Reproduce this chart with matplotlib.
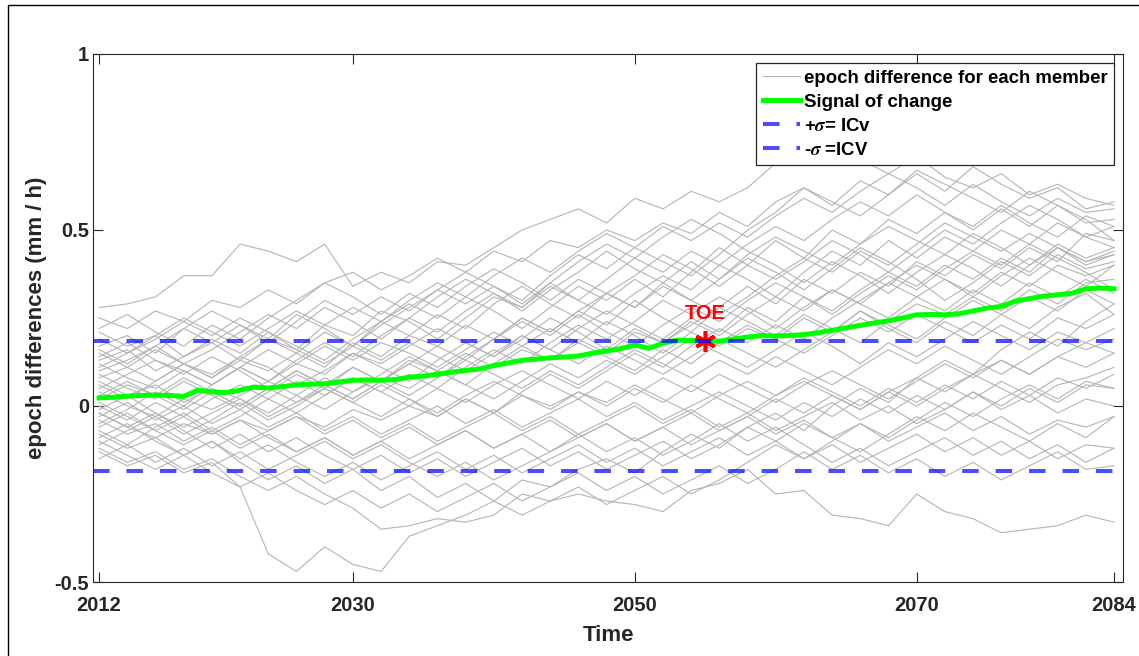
import numpy as np
import matplotlib
matplotlib.use("Agg")
from matplotlib import pyplot as plt
from matplotlib.patches import Rectangle

plt.rcParams['font.family'] = ['Liberation Sans', 'DejaVu Sans']
plt.rcParams['font.weight'] = 'bold'
plt.rcParams['mathtext.fontset'] = 'stix'

# member years (every 2 years)
years = np.arange(2012, 2085, 2)

# epoch difference for each member (mm/h)
m01 = [0.28, 0.29, 0.31, 0.37, 0.37, 0.46, 0.44, 0.41, 0.46, 0.34, 0.38, 0.35, 0.41, 0.40, 0.45, 0.50, 0.53, 0.56, 0.52, 0.59, 0.56, 0.61, 0.58, 0.62, 0.69, 0.73, 0.76, 0.70, 0.66, 0.71, 0.65, 0.62, 0.66, 0.60, 0.63, 0.59, 0.57]
m02 = [0.25, 0.22, 0.27, 0.24, 0.30, 0.28, 0.33, 0.29, 0.35, 0.38, 0.33, 0.37, 0.42, 0.38, 0.44, 0.41, 0.47, 0.45, 0.50, 0.47, 0.52, 0.49, 0.55, 0.51, 0.58, 0.62, 0.57, 0.64, 0.60, 0.66, 0.61, 0.68, 0.63, 0.59, 0.62, 0.56, 0.58]
m03 = [0.21, 0.17, 0.20, 0.14, 0.18, 0.23, 0.19, 0.26, 0.22, 0.17, 0.24, 0.29, 0.25, 0.31, 0.27, 0.22, 0.28, 0.34, 0.30, 0.36, 0.31, 0.38, 0.45, 0.40, 0.47, 0.42, 0.50, 0.46, 0.53, 0.49, 0.55, 0.50, 0.56, 0.51, 0.57, 0.52, 0.53]
m04 = [0.17, 0.20, 0.15, 0.22, 0.18, 0.13, 0.19, 0.16, 0.23, 0.20, 0.27, 0.24, 0.19, 0.25, 0.31, 0.28, 0.35, 0.30, 0.26, 0.32, 0.37, 0.33, 0.40, 0.36, 0.31, 0.38, 0.44, 0.40, 0.47, 0.42, 0.48, 0.44, 0.50, 0.46, 0.52, 0.48, 0.51]
m05 = [0.15, 0.11, 0.16, 0.12, 0.08, 0.13, 0.10, 0.15, 0.11, 0.18, 0.14, 0.20, 0.17, 0.23, 0.19, 0.25, 0.21, 0.27, 0.23, 0.30, 0.25, 0.21, 0.28, 0.34, 0.29, 0.36, 0.32, 0.38, 0.34, 0.41, 0.37, 0.43, 0.39, 0.45, 0.41, 0.49, 0.47]
m06 = [0.13, 0.16, 0.10, 0.14, 0.19, 0.15, 0.21, 0.17, 0.13, 0.19, 0.24, 0.20, 0.26, 0.22, 0.29, 0.34, 0.29, 0.25, 0.32, 0.28, 0.35, 0.41, 0.36, 0.43, 0.48, 0.44, 0.40, 0.46, 0.51, 0.47, 0.43, 0.49, 0.45, 0.40, 0.46, 0.42, 0.45]
m07 = [0.12, 0.08, 0.05, 0.10, 0.06, 0.11, 0.16, 0.12, 0.09, 0.15, 0.11, 0.07, 0.13, 0.18, 0.14, 0.20, 0.16, 0.22, 0.27, 0.23, 0.19, 0.25, 0.21, 0.28, 0.24, 0.31, 0.27, 0.33, 0.38, 0.34, 0.40, 0.36, 0.42, 0.38, 0.45, 0.40, 0.43]
m08 = [0.10, 0.13, 0.17, 0.12, 0.16, 0.21, 0.26, 0.22, 0.28, 0.24, 0.19, 0.25, 0.31, 0.36, 0.32, 0.27, 0.33, 0.38, 0.44, 0.39, 0.35, 0.30, 0.36, 0.42, 0.38, 0.33, 0.39, 0.45, 0.41, 0.36, 0.30, 0.35, 0.41, 0.37, 0.43, 0.39, 0.41]
m09 = [0.09, 0.05, 0.02, 0.07, 0.03, -0.01, 0.04, 0.09, 0.05, 0.11, 0.07, 0.13, 0.10, 0.06, 0.12, 0.17, 0.13, 0.19, 0.15, 0.21, 0.18, 0.24, 0.20, 0.26, 0.31, 0.27, 0.33, 0.29, 0.25, 0.31, 0.36, 0.32, 0.38, 0.34, 0.40, 0.37, 0.40]
m10 = [0.08, 0.11, 0.07, 0.12, 0.09, 0.14, 0.11, 0.06, 0.10, 0.15, 0.12, 0.17, 0.22, 0.18, 0.14, 0.19, 0.25, 0.21, 0.16, 0.22, 0.18, 0.23, 0.28, 0.24, 0.20, 0.26, 0.22, 0.18, 0.24, 0.29, 0.26, 0.31, 0.27, 0.33, 0.29, 0.35, 0.36]
m11 = [0.07, 0.03, 0.06, 0.01, 0.05, 0.02, -0.02, 0.03, 0.08, 0.04, 0.09, 0.14, 0.10, 0.15, 0.11, 0.16, 0.13, 0.18, 0.14, 0.10, 0.16, 0.12, 0.18, 0.23, 0.19, 0.25, 0.21, 0.27, 0.22, 0.18, 0.24, 0.20, 0.26, 0.31, 0.27, 0.33, 0.29]
m12 = [0.05, 0.09, 0.13, 0.10, 0.06, 0.11, 0.07, 0.12, 0.17, 0.13, 0.18, 0.15, 0.11, 0.16, 0.21, 0.17, 0.22, 0.18, 0.24, 0.20, 0.15, 0.21, 0.17, 0.22, 0.19, 0.15, 0.20, 0.25, 0.21, 0.26, 0.22, 0.18, 0.23, 0.19, 0.25, 0.22, 0.26]
m13 = [0.04, 0.00, -0.03, 0.02, -0.01, 0.03, 0.07, 0.03, -0.01, 0.04, 0.08, 0.05, 0.10, 0.06, 0.02, 0.07, 0.12, 0.08, 0.13, 0.09, 0.14, 0.19, 0.15, 0.11, 0.16, 0.21, 0.17, 0.12, 0.18, 0.14, 0.19, 0.24, 0.20, 0.16, 0.21, 0.18, 0.22]
m14 = [0.02, 0.06, 0.03, 0.08, 0.04, 0.00, 0.05, 0.10, 0.06, 0.02, 0.07, 0.03, 0.08, 0.13, 0.09, 0.05, 0.10, 0.06, 0.11, 0.16, 0.12, 0.08, 0.13, 0.09, 0.14, 0.10, 0.06, 0.11, 0.16, 0.12, 0.17, 0.13, 0.09, 0.14, 0.19, 0.16, 0.19]
m15 = [0.00, -0.04, 0.01, -0.03, 0.02, 0.06, 0.02, 0.07, 0.03, 0.08, 0.04, 0.00, 0.05, 0.01, 0.06, 0.10, 0.06, 0.02, 0.07, 0.03, 0.08, 0.04, 0.09, 0.05, 0.01, 0.06, 0.10, 0.06, 0.02, 0.07, 0.12, 0.08, 0.13, 0.09, 0.14, 0.11, 0.15]
m16 = [-0.01, 0.03, -0.02, -0.06, -0.02, 0.02, -0.03, 0.01, 0.05, 0.01, -0.03, 0.02, -0.02, 0.03, 0.07, 0.03, -0.01, 0.04, 0.00, 0.05, 0.01, 0.06, 0.02, -0.02, 0.03, 0.07, 0.03, -0.01, 0.04, 0.00, 0.05, 0.09, 0.05, 0.01, 0.06, 0.08, 0.11]
m17 = [-0.02, -0.06, -0.09, -0.05, -0.08, -0.04, -0.07, -0.03, -0.06, -0.01, -0.04, 0.00, -0.03, 0.02, -0.02, 0.03, 0.00, 0.04, 0.01, 0.06, 0.02, -0.02, 0.03, 0.07, 0.03, 0.08, 0.04, 0.00, 0.05, 0.01, 0.06, 0.02, 0.07, 0.03, 0.08, 0.05, 0.09]
m18 = [-0.03, 0.01, -0.04, 0.00, -0.05, -0.01, -0.06, -0.02, -0.07, -0.03, -0.08, -0.04, 0.00, -0.05, -0.01, -0.06, -0.02, 0.02, -0.03, 0.01, -0.04, 0.00, 0.04, 0.00, -0.04, 0.01, -0.03, 0.02, -0.02, 0.03, -0.01, 0.04, 0.00, 0.05, 0.01, 0.06, 0.05]
m19 = [-0.04, -0.08, -0.05, -0.10, -0.06, -0.11, -0.07, -0.03, -0.08, -0.04, -0.09, -0.05, -0.10, -0.06, -0.02, -0.07, -0.03, -0.08, -0.04, 0.00, -0.05, -0.01, -0.06, -0.02, -0.07, -0.03, 0.01, -0.04, 0.00, -0.05, -0.01, 0.04, -0.01, 0.03, -0.02, 0.02, 0.00]
m20 = [-0.06, -0.02, -0.07, -0.11, -0.07, -0.12, -0.08, -0.13, -0.09, -0.14, -0.10, -0.06, -0.11, -0.07, -0.12, -0.08, -0.04, -0.09, -0.05, -0.10, -0.06, -0.11, -0.07, -0.03, -0.08, -0.04, -0.09, -0.05, -0.10, -0.06, -0.02, -0.07, -0.03, -0.08, -0.04, -0.06, -0.03]
m21 = [-0.08, -0.12, -0.09, -0.14, -0.10, -0.15, -0.11, -0.16, -0.20, -0.16, -0.21, -0.17, -0.13, -0.18, -0.14, -0.19, -0.15, -0.11, -0.16, -0.12, -0.17, -0.13, -0.09, -0.14, -0.10, -0.15, -0.11, -0.16, -0.12, -0.08, -0.13, -0.09, -0.14, -0.10, -0.15, -0.11, -0.12]
m22 = [-0.10, -0.14, -0.18, -0.14, -0.19, -0.23, -0.19, -0.24, -0.28, -0.24, -0.29, -0.25, -0.30, -0.26, -0.22, -0.27, -0.23, -0.19, -0.24, -0.20, -0.25, -0.21, -0.17, -0.22, -0.18, -0.13, -0.18, -0.14, -0.19, -0.15, -0.20, -0.16, -0.21, -0.17, -0.13, -0.18, -0.17]
m23 = [-0.12, -0.16, -0.13, -0.18, -0.15, -0.20, -0.24, -0.20, -0.25, -0.29, -0.35, -0.34, -0.32, -0.33, -0.31, -0.25, -0.27, -0.25, -0.27, -0.28, -0.30, -0.24, -0.22, -0.18, -0.25, -0.24, -0.31, -0.32, -0.34, -0.25, -0.30, -0.32, -0.36, -0.35, -0.34, -0.31, -0.33]
m24 = [-0.13, -0.17, -0.14, -0.19, -0.16, -0.23, -0.42, -0.47, -0.40, -0.45, -0.47, -0.37, -0.34, -0.31, -0.27, -0.21, -0.23, -0.18, -0.15, -0.19, -0.13, -0.08, -0.12, -0.06, -0.02, -0.07, 0.00, 0.05, 0.01, 0.08, 0.13, 0.09, 0.16, 0.21, 0.17, 0.24, 0.29]
m25 = [-0.15, -0.11, -0.16, -0.12, -0.17, -0.13, -0.18, -0.14, -0.10, -0.15, -0.11, -0.16, -0.20, -0.16, -0.21, -0.17, -0.13, -0.08, -0.13, -0.09, -0.14, -0.10, -0.05, -0.10, -0.06, -0.11, -0.16, -0.12, -0.17, -0.13, -0.09, -0.14, -0.10, -0.15, -0.11, -0.16, -0.12]
m26 = [-0.05, -0.01, 0.04, 0.00, 0.06, 0.11, 0.07, 0.13, 0.18, 0.14, 0.20, 0.25, 0.21, 0.27, 0.32, 0.28, 0.34, 0.30, 0.36, 0.42, 0.38, 0.44, 0.40, 0.46, 0.51, 0.47, 0.53, 0.58, 0.54, 0.60, 0.55, 0.51, 0.57, 0.52, 0.48, 0.54, 0.51]
m27 = [0.06, 0.02, 0.07, 0.12, 0.08, 0.14, 0.19, 0.15, 0.21, 0.17, 0.23, 0.28, 0.33, 0.29, 0.34, 0.30, 0.37, 0.43, 0.39, 0.45, 0.41, 0.37, 0.43, 0.50, 0.55, 0.62, 0.58, 0.54, 0.60, 0.67, 0.63, 0.59, 0.55, 0.61, 0.57, 0.53, 0.47]
m28 = [0.03, 0.07, 0.03, -0.01, 0.04, 0.00, 0.05, 0.01, 0.06, 0.11, 0.07, 0.12, 0.08, 0.14, 0.19, 0.25, 0.21, 0.27, 0.32, 0.28, 0.34, 0.30, 0.26, 0.31, 0.37, 0.42, 0.38, 0.44, 0.40, 0.46, 0.52, 0.48, 0.44, 0.49, 0.45, 0.41, 0.43]
m29 = [-0.07, -0.11, -0.06, -0.02, -0.07, -0.03, 0.02, -0.02, 0.03, 0.08, 0.04, 0.09, 0.05, 0.11, 0.16, 0.12, 0.18, 0.23, 0.19, 0.24, 0.30, 0.26, 0.31, 0.27, 0.22, 0.28, 0.33, 0.29, 0.35, 0.40, 0.36, 0.31, 0.37, 0.42, 0.38, 0.34, 0.40]
m30 = [0.19, 0.15, 0.20, 0.25, 0.21, 0.17, 0.22, 0.27, 0.23, 0.28, 0.24, 0.30, 0.35, 0.31, 0.37, 0.42, 0.38, 0.44, 0.49, 0.45, 0.51, 0.47, 0.52, 0.48, 0.54, 0.59, 0.55, 0.61, 0.66, 0.62, 0.57, 0.63, 0.58, 0.54, 0.59, 0.55, 0.56]
m31 = [0.01, -0.03, -0.07, -0.03, -0.08, -0.04, -0.09, -0.13, -0.09, -0.14, -0.10, -0.15, -0.11, -0.07, -0.12, -0.08, -0.13, -0.09, -0.05, -0.10, -0.06, -0.02, -0.07, -0.03, 0.02, -0.02, 0.03, -0.01, 0.04, 0.08, 0.04, 0.09, 0.13, 0.09, 0.14, 0.18, 0.15]
m32 = [0.11, 0.15, 0.19, 0.24, 0.20, 0.25, 0.21, 0.16, 0.12, 0.17, 0.13, 0.18, 0.14, 0.10, 0.15, 0.20, 0.16, 0.12, 0.17, 0.13, 0.09, 0.14, 0.19, 0.15, 0.11, 0.16, 0.21, 0.27, 0.23, 0.19, 0.25, 0.30, 0.26, 0.22, 0.28, 0.32, 0.26]
m33 = [0.16, 0.12, 0.17, 0.22, 0.27, 0.23, 0.18, 0.24, 0.30, 0.26, 0.31, 0.27, 0.33, 0.38, 0.34, 0.29, 0.35, 0.41, 0.46, 0.42, 0.48, 0.53, 0.49, 0.44, 0.40, 0.35, 0.41, 0.37, 0.32, 0.38, 0.43, 0.39, 0.34, 0.40, 0.45, 0.41, 0.44]
m34 = [-0.09, -0.05, -0.10, -0.14, -0.10, -0.16, -0.21, -0.17, -0.22, -0.18, -0.24, -0.20, -0.26, -0.22, -0.27, -0.31, -0.27, -0.23, -0.28, -0.24, -0.20, -0.25, -0.21, -0.16, -0.11, -0.15, -0.10, -0.05, -0.09, -0.04, 0.01, -0.03, 0.02, 0.06, 0.02, 0.07, 0.05]
m35 = [0.14, 0.18, 0.13, 0.09, 0.14, 0.10, 0.05, 0.10, 0.06, 0.02, 0.07, 0.12, 0.17, 0.13, 0.19, 0.24, 0.20, 0.26, 0.21, 0.17, 0.23, 0.28, 0.24, 0.30, 0.35, 0.31, 0.26, 0.32, 0.37, 0.33, 0.39, 0.44, 0.40, 0.46, 0.42, 0.38, 0.33]
m36 = [-0.11, -0.07, -0.03, -0.08, -0.04, 0.01, -0.04, 0.00, 0.05, 0.01, 0.06, 0.02, -0.03, 0.02, -0.02, 0.04, 0.09, 0.05, 0.10, 0.15, 0.11, 0.17, 0.22, 0.18, 0.23, 0.19, 0.25, 0.30, 0.35, 0.31, 0.27, 0.33, 0.29, 0.35, 0.31, 0.36, 0.32]
m37 = [0.22, 0.26, 0.21, 0.17, 0.23, 0.19, 0.25, 0.30, 0.35, 0.31, 0.26, 0.32, 0.28, 0.34, 0.39, 0.35, 0.30, 0.36, 0.32, 0.37, 0.43, 0.39, 0.34, 0.40, 0.36, 0.41, 0.47, 0.43, 0.38, 0.44, 0.50, 0.46, 0.52, 0.57, 0.53, 0.48, 0.45]
m38 = [-0.02, -0.06, -0.02, -0.07, -0.12, -0.08, -0.13, -0.09, -0.14, -0.18, -0.14, -0.19, -0.15, -0.20, -0.16, -0.12, -0.17, -0.13, -0.18, -0.14, -0.10, -0.15, -0.11, -0.06, -0.10, -0.05, -0.09, -0.13, -0.08, -0.03, -0.07, -0.02, -0.06, -0.10, -0.05, -0.09, -0.03]
members = [m01, m02, m03, m04, m05, m06, m07, m08, m09, m10, m11, m12, m13, m14, m15, m16, m17, m18, m19,
           m20, m21, m22, m23, m24, m25, m26, m27, m28, m29, m30, m31, m32, m33, m34, m35, m36, m37, m38]

# signal of change (yearly)
signal_years = np.arange(2012, 2085)
signal = [0.023, 0.025, 0.028, 0.030, 0.031, 0.030, 0.027, 0.045, 0.040, 0.038,
          0.045, 0.054, 0.051, 0.055, 0.060, 0.062, 0.063, 0.068, 0.073, 0.074,
          0.073, 0.075, 0.082, 0.085, 0.090, 0.096, 0.101, 0.105, 0.115, 0.122,
          0.130, 0.133, 0.137, 0.139, 0.142, 0.150, 0.156, 0.163, 0.173, 0.164,
          0.178, 0.187, 0.186, 0.186, 0.184, 0.190, 0.196, 0.200, 0.199, 0.200,
          0.203, 0.208, 0.215, 0.222, 0.229, 0.236, 0.242, 0.250, 0.259, 0.260,
          0.259, 0.262, 0.270, 0.278, 0.283, 0.298, 0.305, 0.312, 0.316, 0.320,
          0.333, 0.335, 0.333]

icv = 0.186
toe_year = 2055
toe_value = 0.186

fig = plt.figure(figsize=(11.39, 6.56), dpi=100)
ax = fig.add_axes([0.0817, 0.1128, 0.9043, 0.8049])

for i, m in enumerate(members):
    ax.plot(years, m, color='#b4b4b4', lw=0.8,
            label='epoch difference for each member' if i == 0 else None)
ax.plot(signal_years, signal, color='#00ff00', lw=3.6, label='Signal of change')
ax.plot(toe_year, toe_value, marker=(6, 2, 0), ms=15, mew=2.6, color='red', ls='none')

xl = (2011.57, 2084.64)
ax.plot([xl[0], 2084], [icv, icv], color='b', alpha=0.7, lw=2.9, dashes=(4.1, 4.2),
        label='+$\\sigma$= ICv')
ax.plot([xl[0], 2084], [-icv, -icv], color='b', alpha=0.7, lw=2.9, dashes=(4.1, 4.2),
        label='-$\\sigma$ =ICV')
ax.text(toe_year, 0.264, 'TOE', color='red', fontsize=14.4, fontweight='bold',
        ha='center', va='center')

ax.set_xlim(xl)
ax.set_ylim(-0.5, 1)
ax.set_xticks([2012, 2030, 2050, 2070, 2084])
ax.set_xticklabels(['2012', '2030', '2050', '2070', '2084'])
ax.set_yticks([-0.5, 0, 0.5, 1])
ax.set_yticklabels(['-0.5', '0', '0.5', '1'])
ax.tick_params(direction='in', top=True, right=True, length=7, width=0.8,
               labelsize=14.5, colors='#262626')
ax.tick_params(axis='x', pad=10)
ax.tick_params(axis='y', pad=3)
for s in ax.spines.values():
    s.set_linewidth(0.8)
    s.set_color('#262626')

ax.set_xlabel('Time', fontsize=16, fontweight='bold', color='#262626', labelpad=7)
ax.set_ylabel('epoch differences (mm / h)', fontsize=16, fontweight='bold',
              color='#262626', labelpad=5)

leg = ax.legend(loc='upper right', bbox_to_anchor=(0.991, 0.983), fontsize=13.4,
                frameon=True, fancybox=False, framealpha=1, edgecolor='#262626',
                handlelength=2.0, handletextpad=0.2, borderpad=0.35,
                labelspacing=0.38, borderaxespad=0)
leg.get_frame().set_linewidth(0.9)
for t in leg.get_texts():
    t.set_fontweight('bold')

fig.add_artist(Rectangle((8 / 1139, -0.1), 1.2, 1.1 - 5 / 656, transform=fig.transFigure,
                         fill=False, lw=1.0, ec='black'))

fig.savefig('out.png', dpi=100)
